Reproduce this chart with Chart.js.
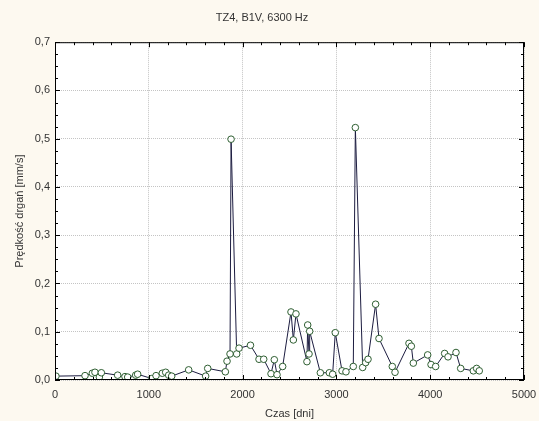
<!DOCTYPE html>
<html>
<head>
<meta charset="utf-8">
<script src="https://cdn.jsdelivr.net/npm/chart.js@4/dist/chart.umd.min.js"></script>
<style>
  html, body { margin: 0; padding: 0; background: #fdf9f0; }
  #wrap { width: 539px; height: 421px; }
</style>
</head>
<body>
<div id="wrap"><canvas id="myChart" width="539" height="421"></canvas></div>
<script>
// czas [dni]
const days = [10, 320, 398, 426, 473, 494, 668, 746, 775, 860, 881, 1031, 1077, 1144, 1180, 1212, 1244,
  1425, 1606, 1628, 1816, 1834, 1866, 1877, 1937, 1962, 2084, 2175, 2225, 2303, 2338, 2367, 2427,
  2516, 2541, 2569, 2686, 2694, 2708, 2715, 2829, 2925, 2960, 2988, 3060, 3102, 3180, 3202,
  3280, 3312, 3337, 3418, 3454, 3596, 3625, 3774, 3799, 3820, 3973, 4009, 4058, 4154, 4190,
  4275, 4325, 4460, 4495, 4523];
// predkosc drgan [mm/s]
const speed = [0.008, 0.009, 0.014, 0.016, 0.006, 0.015, 0.010, 0.007, 0.006, 0.010, 0.012, 0.003, 0.009, 0.014, 0.016, 0.010, 0.008,
  0.021, 0.008, 0.024, 0.017, 0.039, 0.054, 0.499, 0.054, 0.066, 0.072, 0.043, 0.043, 0.013, 0.042, 0.011, 0.028,
  0.141, 0.083, 0.137, 0.038, 0.114, 0.054, 0.101, 0.015, 0.015, 0.012, 0.098, 0.019, 0.017, 0.028, 0.523,
  0.026, 0.036, 0.043, 0.157, 0.086, 0.028, 0.016, 0.076, 0.070, 0.035, 0.052, 0.032, 0.028, 0.055, 0.048,
  0.057, 0.024, 0.019, 0.024, 0.019];
const xTicks = [0, 1000, 2000, 3000, 4000, 5000];
const yTicks = [0, 0.1, 0.2, 0.3, 0.4, 0.5, 0.6, 0.7];

const points = days.map((d, i) => ({ x: d, y: speed[i] }));

// tlo, ramka i male kreski na wszystkich bokach
const frame = {
  id: 'frame',
  beforeDraw(chart) {
    const c = chart.ctx, a = chart.chartArea;
    c.save();
    c.fillStyle = '#fdf9f0';
    c.fillRect(0, 0, chart.width, chart.height);
    c.fillStyle = '#ffffff';
    c.fillRect(a.left, a.top, a.right - a.left, a.bottom - a.top);
    c.restore();
  },
  afterDraw(chart) {
    const c = chart.ctx, a = chart.chartArea;
    const xs = chart.scales.x, ys = chart.scales.y;
    c.save();
    c.strokeStyle = '#000';
    c.lineWidth = 1;
    c.strokeRect(a.left + 0.5, a.top + 0.5, a.right - a.left - 1, a.bottom - a.top - 1);
    c.beginPath();
    for (let v = 0; v <= 5000; v += 200) {
      const px = Math.round(xs.getPixelForValue(v)) + 0.5;
      const len = v % 1000 === 0 ? 5 : 3;
      c.moveTo(px, a.bottom); c.lineTo(px, a.bottom - len);
      c.moveTo(px, a.top); c.lineTo(px, a.top + len);
    }
    for (let k = 0; k <= 28; k++) {
      const py = Math.round(ys.getPixelForValue(k * 0.025)) + 0.5;
      const len = k % 4 === 0 ? 5 : 3;
      c.moveTo(a.left, py); c.lineTo(a.left + len, py);
      c.moveTo(a.right, py); c.lineTo(a.right - len, py);
    }
    c.stroke();
    c.restore();
  }
};

const ctx = document.getElementById('myChart');
const font = { family: '"Liberation Sans", Arial, sans-serif', size: 11 };

new Chart(ctx, {
  type: 'scatter',
  data: {
    datasets: [{
      data: points,
      showLine: true,
      borderColor: '#1c1c40',
      borderWidth: 1,
      pointRadius: 3.3,
      pointBorderWidth: 1,
      pointBorderColor: '#2f5f32',
      pointBackgroundColor: '#ffffff',
      tension: 0
    }]
  },
  options: {
    responsive: false,
    animation: false,
    layout: { padding: { right: 15, left: 0, top: 0, bottom: 0 } },
    plugins: {
      legend: { display: false },
      tooltip: { enabled: false },
      title: {
        display: true,
        text: 'TZ4, B1V, 6300 Hz',
        color: '#333',
        font: { family: font.family, size: 11, weight: 'normal' },
        padding: { top: 11, bottom: 18 }
      }
    },
    scales: {
      x: {
        type: 'linear',
        min: 0, max: 5000,
        afterFit(s) { s.height = 41; s.paddingRight = 0; s.paddingLeft = 0; },
        afterBuildTicks(s) { s.ticks = xTicks.map(v => ({ value: v })); },
        ticks: { color: '#333', font: font, padding: 8, maxRotation: 0, callback: v => String(v) },
        grid: { color: '#c4c4c4', drawTicks: false },
        border: { display: false, dash: [1, 1] },
        title: { display: true, text: 'Czas [dni]', color: '#333', font: font, padding: { top: 3, bottom: 0 } }
      },
      y: {
        min: 0, max: 0.7,
        afterFit(s) { s.width = 55; },
        afterBuildTicks(s) { s.ticks = yTicks.map(v => ({ value: v })); },
        ticks: {
          color: '#333', font: font, padding: 5,
          callback: v => v.toFixed(1).replace('.', ',')
        },
        grid: { color: '#c4c4c4', drawTicks: false },
        border: { display: false, dash: [1, 1] },
        title: { display: true, text: 'Prędkość drgań [mm/s]', color: '#333', font: font, padding: { top: 13, bottom: 4 } }
      }
    }
  },
  plugins: [frame]
});
</script>
</body>
</html>
